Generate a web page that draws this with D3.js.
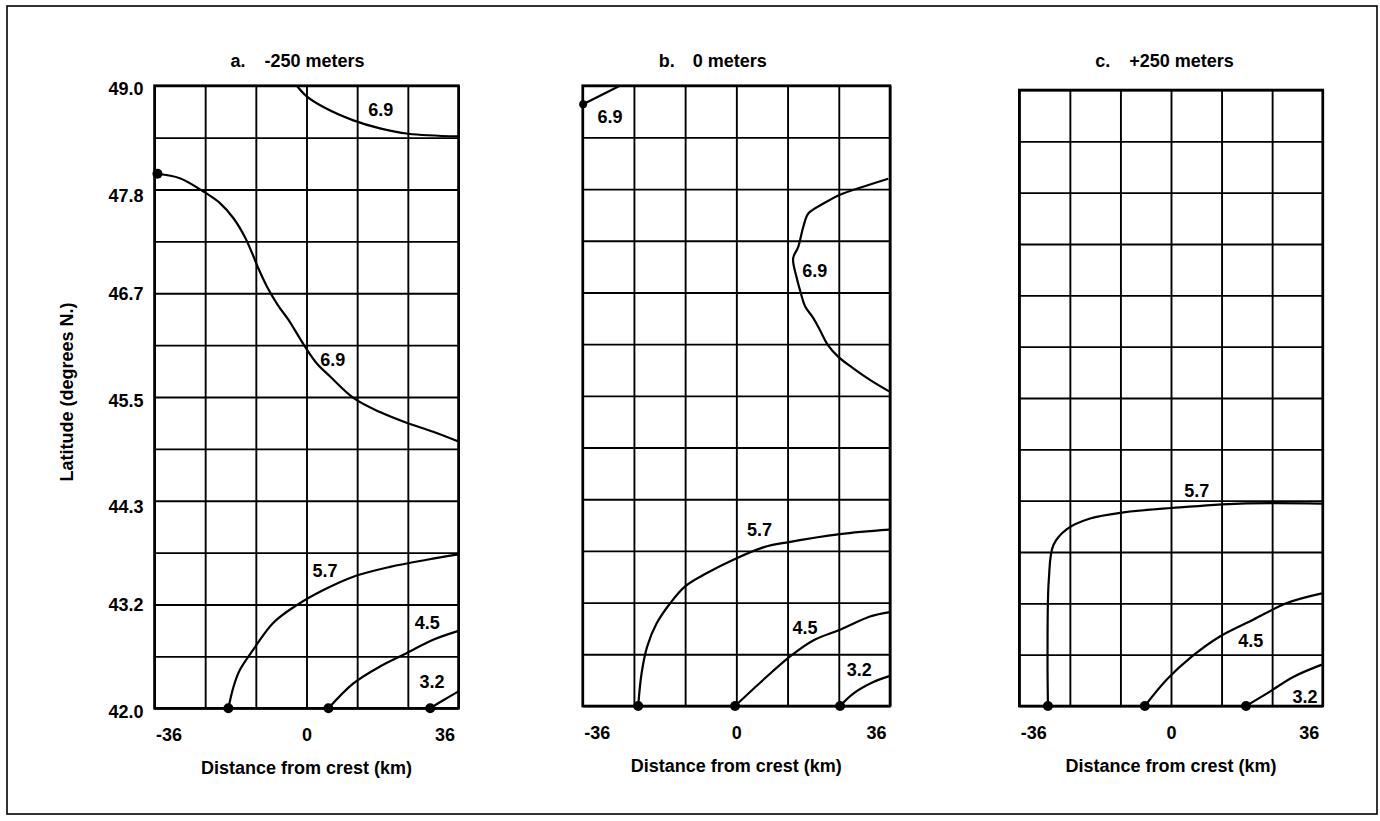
<!DOCTYPE html>
<html lang="en">
<head>
<meta charset="UTF-8">
<title>Contours by depth</title>
<script src="https://cdn.jsdelivr.net/npm/d3@7"></script>
<style>
    body { margin: 0; background: #fff; }
    text {
        font-family: "Liberation Sans", Arial, Helvetica, sans-serif;
        font-weight: bold;
        font-size: 18px;
        fill: #000;
    }
    .grid line { stroke: #000; stroke-width: 1.9px; }
    .grid path { display: none; }
    .ticks path, .ticks line { display: none; }
    .contour { fill: none; stroke: #000; stroke-width: 2.2px; }
</style>
</head>
<body>
<svg width="1380" height="821"></svg>
<script>
// ---- data ----
var panelTitles = [["a.", "-250 meters"], ["b.", "0 meters"], ["c.", "+250 meters"]];
var xTicks = [-36, 0, 36];
var yTicks = [42.0, 43.2, 44.3, 45.5, 46.7, 47.8, 49.0];
var xTitle = "Distance from crest (km)";
var yTitle = "Latitude (degrees N.)";

// contour lines, [km from crest, latitude]
// panel a (-250 m)
var a69top = [[-2.3, 49.0], [0.05, 48.88], [4.0, 48.76], [11.1, 48.61], [17.4, 48.52], [24.1, 48.46], [36, 48.43]];
var a69 = [[-35.3, 48.01], [-30.0, 47.96], [-24.4, 47.81], [-20.5, 47.68], [-17.3, 47.51], [-14.6, 47.30],
    [-12.9, 47.12], [-11.25, 46.93], [-9.35, 46.74], [-6.75, 46.53], [-4.3, 46.37], [-0.4, 46.07], [2.4, 45.88],
    [5.6, 45.73], [11.1, 45.49], [17.4, 45.33], [23.7, 45.21], [30.0, 45.11], [36.0, 45.00]];
var a57 = [[-18.5, 42.0], [-17.3, 42.24], [-15.8, 42.43], [-12.6, 42.66], [-7.9, 42.96], [-2.3, 43.16],
    [4.0, 43.33], [11.1, 43.48], [19.8, 43.59], [28.5, 43.67], [36, 43.73]];
var a45 = [[5.2, 42.0], [11.1, 42.28], [17.4, 42.47], [23.7, 42.62], [30.0, 42.77], [36, 42.87]];
var a32 = [[29.3, 42.0], [32.4, 42.09], [36, 42.19]];

// panel b (0 m)
var b69top = [[-35.9, 48.79], [-27.3, 49.0]];
var b69 = [[35.6, 47.95], [29.7, 47.86], [24.3, 47.77], [20.4, 47.67], [16.9, 47.56], [15.7, 47.41],
    [14.5, 47.18], [13.3, 47.05], [14.1, 46.84], [15.1, 46.66], [16.1, 46.51], [18.0, 46.38], [19.6, 46.24],
    [21.5, 46.07], [23.9, 45.94], [27.4, 45.81], [31.3, 45.68], [35.8, 45.55]];
var b57 = [[-23.0, 42.0], [-22.2, 42.37], [-20.9, 42.67], [-18.7, 42.93], [-15.5, 43.16], [-12.0, 43.35],
    [-6.9, 43.50], [-0.7, 43.65], [6.3, 43.79], [12.3, 43.85], [24.3, 43.94], [35.8, 43.99]];
var b45 = [[-0.3, 42.0], [5.5, 42.26], [12.6, 42.56], [18.0, 42.74], [24.3, 42.86], [31.3, 43.01], [36, 43.06]];
var b32 = [[24.3, 42.0], [27.4, 42.14], [32.1, 42.27], [36, 42.34]];

// panel c (+250 m)
var c57 = [[-29.2, 42.0], [-29.3, 42.6], [-29.0, 43.43], [-27.9, 43.83], [-24.7, 44.01], [-19.2, 44.13],
    [-11.3, 44.20], [0.2, 44.25], [16.4, 44.30], [35.8, 44.30]];
var c45 = [[-6.2, 42.0], [-1.0, 42.30], [4.9, 42.56], [11.6, 42.79], [19.5, 42.98], [27.5, 43.17], [35.8, 43.28]];
var c32 = [[17.8, 42.0], [22.7, 42.14], [29.0, 42.33], [35.8, 42.47]];

// which contours go in which panel, label anchor in data units, and whether the start has a dot
var contoursA = [
    {value: "6.9", line: a69top, label: [17.6, 48.73], dot: false},
    {value: "6.9", line: a69, label: [6.2, 45.92], dot: true},
    {value: "5.7", line: a57, label: [4.4, 43.55], dot: true},
    {value: "4.5", line: a45, label: [28.6, 42.96], dot: true},
    {value: "3.2", line: a32, label: [29.7, 42.30], dot: true}
];
var contoursB = [
    {value: "6.9", line: b69top, label: [-29.6, 48.65], dot: true},
    {value: "6.9", line: b69, label: [18.4, 46.91], dot: false},
    {value: "5.7", line: b57, label: [5.4, 43.99], dot: true},
    {value: "4.5", line: b45, label: [16.1, 42.89], dot: true},
    {value: "3.2", line: b32, label: [28.8, 42.41], dot: true}
];
var contoursC = [
    {value: "5.7", line: c57, label: [6.1, 44.45], dot: true},
    {value: "4.5", line: c45, label: [18.9, 42.75], dot: true},
    {value: "3.2", line: c32, label: [31.8, 42.11], dot: true}
];

// ---- layout (the scanned panels are not quite aligned) ----
var panels = [
    {left: 154.5, right: 458.5, top: 85.7, bottom: 708.3, contours: contoursA, yAxis: true},
    {left: 582.7, right: 890, top: 85.7, bottom: 706, contours: contoursB, yAxis: false},
    {left: 1019.3, right: 1322.7, top: 90, bottom: 706, contours: contoursC, yAxis: false}
];

var svg = d3.select("svg");

// outer frame
svg.append("rect")
    .attr("x", 7).attr("y", 6)
    .attr("width", 1370).attr("height", 808)
    .attr("fill", "none").attr("stroke", "#000").attr("stroke-width", 1.6);

var xGrid = d3.range(-36, 37, 12);
var yGrid = d3.range(13).map(function (i) { return 42 + i * 7 / 12; });

panels.forEach(function (p, k) {
    var g = svg.append("g");
    var x = d3.scaleLinear().domain([-36, 36]).range([p.left, p.right]);
    var y = d3.scaleLinear().domain([42, 49]).range([p.bottom, p.top]);

    // grid
    g.append("g").attr("class", "grid")
        .attr("transform", "translate(0," + p.bottom + ")")
        .call(d3.axisBottom(x).tickValues(xGrid).tickSize(-(p.bottom - p.top)).tickFormat(""));
    g.append("g").attr("class", "grid")
        .attr("transform", "translate(" + p.left + ",0)")
        .call(d3.axisLeft(y).tickValues(yGrid).tickSize(-(p.right - p.left)).tickFormat(""));

    // frame of the panel
    g.append("rect")
        .attr("x", p.left).attr("y", p.top)
        .attr("width", p.right - p.left).attr("height", p.bottom - p.top)
        .attr("fill", "none").attr("stroke", "#000").attr("stroke-width", 2.6);

    // x tick labels (plain hyphen, as in the original)
    var xa = g.append("g").attr("class", "ticks")
        .attr("transform", "translate(0," + p.bottom + ")")
        .call(d3.axisBottom(x).tickValues(xTicks).tickSize(0).tickPadding(20).tickFormat(String));
    xa.attr("font-size", null).attr("font-family", null);
    xa.selectAll("text")
        .attr("text-anchor", function (d) { return d === -36 ? "start" : d === 36 ? "end" : "middle"; })
        .attr("dx", function (d) { return d === -36 ? 1 : d === 36 ? -4 : 0; });

    // y tick labels, first panel only
    if (p.yAxis) {
        var ya = g.append("g").attr("class", "ticks")
            .attr("transform", "translate(" + p.left + ",0)")
            .call(d3.axisLeft(y).tickValues(yTicks).tickSize(0).tickPadding(11).tickFormat(d3.format(".1f")));
        ya.attr("font-size", null).attr("font-family", null);
        ya.selectAll("text").attr("dy", "0.5em");
    }

    // panel title
    var t = g.append("text").attr("y", 67);
    t.append("tspan").attr("x", p.left + 76).text(panelTitles[k][0]);
    t.append("tspan").attr("x", p.left + 76 + 34).text(panelTitles[k][1]);

    // x axis title
    g.append("text")
        .attr("x", (p.left + p.right) / 2)
        .attr("y", p.bottom + 66)
        .attr("text-anchor", "middle")
        .text(xTitle);

    // contours
    var line = d3.line()
        .x(function (d) { return x(d[0]); })
        .y(function (d) { return y(d[1]); })
        .curve(d3.curveCatmullRom.alpha(0.5));

    g.selectAll(".contour")
        .data(p.contours)
        .enter().append("path")
        .attr("class", "contour")
        .attr("d", function (c) { return line(c.line); });

    g.selectAll(".dot")
        .data(p.contours.filter(function (c) { return c.dot; }))
        .enter().append("circle")
        .attr("class", "dot")
        .attr("cx", function (c) { return x(c.line[0][0]); })
        .attr("cy", function (c) { return y(c.line[0][1]); })
        .attr("r", function (c) { return c.line[0][1] > 48 && k === 1 ? 4 : 5; })
        .attr("fill", "#000");

    g.selectAll(".clabel")
        .data(p.contours)
        .enter().append("text")
        .attr("class", "clabel")
        .attr("x", function (c) { return x(c.label[0]); })
        .attr("y", function (c) { return y(c.label[1]) + 6.5; })
        .attr("text-anchor", "middle")
        .text(function (c) { return c.value; });
});

// y axis title
svg.append("text")
    .attr("transform", "translate(73,392) rotate(-90)")
    .attr("text-anchor", "middle")
    .text(yTitle);
</script>
</body>
</html>
